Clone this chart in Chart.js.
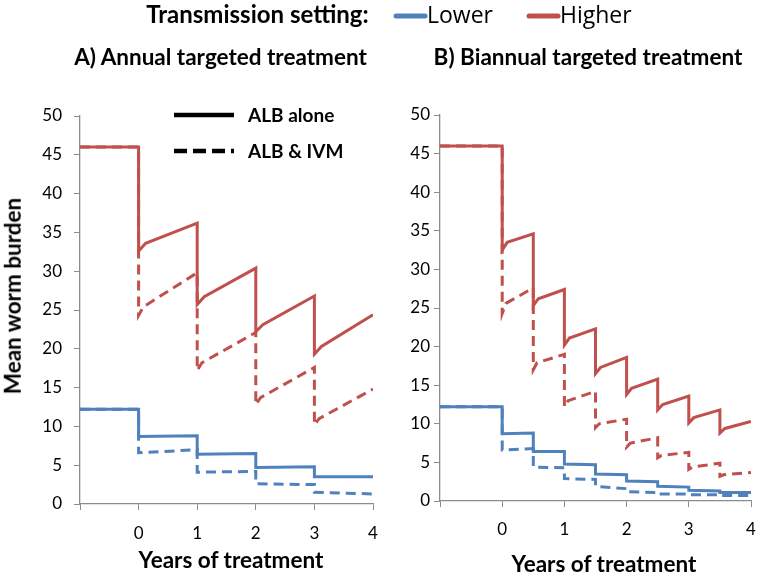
<!DOCTYPE html>
<html>
<head>
<meta charset="utf-8">
<script src="https://cdn.jsdelivr.net/npm/chart.js@4.4.1/dist/chart.umd.min.js"></script>
<style>
    body { margin: 0; background: #fff; font-family: Lato, sans-serif; }
    #page { position: relative; width: 758px; height: 574px; overflow: hidden; }
    canvas { position: absolute; }
    .txt { position: absolute; white-space: nowrap; color: #000; line-height: 1; }
    .bold { font-weight: bold; }
    .reg { font-family: "Open Sans", sans-serif; }
    svg { position: absolute; left: 0; top: 0; }
</style>
</head>
<body>
<div id="page">
    <canvas id="chartA" width="385" height="474" style="left:0; top:100px; width:385px; height:474px;"></canvas>
    <canvas id="chartB" width="373" height="474" style="left:385px; top:100px; width:373px; height:474px;"></canvas>

    <svg width="758" height="200">
        <line x1="396" y1="16" x2="425" y2="16" stroke="#4f81bd" stroke-width="5" stroke-linecap="round"/>
        <line x1="529" y1="16" x2="558" y2="16" stroke="#c0504d" stroke-width="5" stroke-linecap="round"/>
        <line x1="174" y1="115" x2="234" y2="115" stroke="#000" stroke-width="4.5"/>
        <line x1="174" y1="151" x2="234" y2="151" stroke="#000" stroke-width="4.5" stroke-dasharray="13 6"/>
    </svg>

    <div class="txt bold" style="left:0; width:515px; text-align:center; top:2px; font-size:24px;">Transmission setting:</div>
    <div class="txt reg" style="left:427px; top:3px; font-size:23px;">Lower</div>
    <div class="txt reg" style="left:560px; top:3px; font-size:23px;">Higher</div>
    <div class="txt bold" style="left:0; width:441px; text-align:center; top:46px; font-size:22.5px;">A) Annual targeted treatment</div>
    <div class="txt bold" style="left:400px; width:376px; text-align:center; top:46px; font-size:22.5px;">B) Biannual targeted treatment</div>
    <div class="txt bold" style="left:248px; top:105px; font-size:19px;">ALB alone</div>
    <div class="txt bold" style="left:248px; top:141px; font-size:19px;">ALB &amp; IVM</div>

    <div class="txt bold" style="left:13px; top:296px; font-size:22.5px; transform: translate(-50%, -50%) rotate(-90deg);">Mean worm burden</div>
    <div class="txt bold" style="left:0; width:462px; text-align:center; top:549px; font-size:22.5px;">Years of treatment</div>
    <div class="txt bold" style="left:400px; width:408px; text-align:center; top:553px; font-size:22.5px;">Years of treatment</div>
</div>

<script>
// x tick values shown under each panel
const yearLabels = [0, 1, 2, 3, 4];
const yTickStep = 5;

// Panel A - annual treatment, [year, mean worm burden]
const annualHigherAlb = [[-1, 46], [0, 46], [0, 32.6], [0.12, 33.6], [1, 36.2], [1, 25.7], [1.12, 26.7], [2, 30.4],
    [2, 22.2], [2.12, 23.1], [3, 26.8], [3, 19.3], [3.12, 20.3], [4, 24.4]];
const annualHigherIvm = [[-1, 46], [0, 46], [0, 24.3], [0.08, 25.4], [1, 29.8], [1, 17.2], [1.08, 18.2], [2, 22.1],
    [2, 12.8], [2.08, 13.7], [3, 17.6], [3, 10.2], [3.08, 11.0], [4, 14.8]];
const annualLowerAlb = [[-1, 12.2], [0, 12.2], [0, 8.7], [1, 8.8], [1, 6.4], [2, 6.5], [2, 4.7], [3, 4.8], [3, 3.5], [4, 3.5]];
const annualLowerIvm = [[-1, 12.2], [0, 12.2], [0, 6.6], [1, 7.0], [1, 4.1], [2, 4.2], [2, 2.6], [3, 2.5], [3, 1.5], [4, 1.3]];

// Panel B - biannual treatment
const biannualHigherAlb = [[-1, 46], [0, 46], [0, 32.5], [0.08, 33.5], [0.5, 34.6], [0.5, 25.3], [0.58, 26.2], [1, 27.4],
    [1, 20.2], [1.08, 21.1], [1.5, 22.3], [1.5, 16.5], [1.58, 17.3], [2, 18.6], [2, 13.8], [2.08, 14.6], [2.5, 15.8],
    [2.5, 11.8], [2.58, 12.5], [3, 13.6], [3, 10.1], [3.08, 10.8], [3.5, 11.8], [3.5, 8.8], [3.58, 9.4], [4, 10.3]];
const biannualHigherIvm = [[-1, 46], [0, 46], [0, 24.3], [0.06, 25.6], [0.5, 27.6], [0.5, 17.0], [0.56, 17.9], [1, 19.0],
    [1, 12.2], [1.06, 13.0], [1.5, 14.2], [1.5, 9.5], [1.56, 10.0], [2, 10.6], [2, 7.0], [2.06, 7.5], [2.5, 8.2],
    [2.5, 5.6], [2.56, 5.9], [3, 6.3], [3, 4.1], [3.06, 4.4], [3.5, 4.9], [3.5, 3.2], [3.56, 3.4], [4, 3.7]];
const biannualLowerAlb = [[-1, 12.2], [0, 12.2], [0, 8.7], [0.5, 8.8], [0.5, 6.4], [1, 6.4], [1, 4.8], [1.5, 4.7],
    [1.5, 3.5], [2, 3.4], [2, 2.6], [2.5, 2.5], [2.5, 1.9], [3, 1.8], [3, 1.4], [3.5, 1.3], [3.5, 1.1], [4, 1.1]];
const biannualLowerIvm = [[-1, 12.2], [0, 12.2], [0, 6.6], [0.5, 6.8], [0.5, 4.4], [1, 4.3], [1, 2.9], [1.5, 2.8],
    [1.5, 1.9], [2, 1.6], [2, 1.2], [2.5, 1.1], [2.5, 0.9], [3, 0.9], [3, 0.8], [3.5, 0.8], [3.5, 0.7], [4, 0.7]];

const BLUE = '#4f81bd';
const RED = '#c0504d';
const AXIS_GREY = '#8c8c8c';

function toPoints(arr) {
    return arr.map(p => ({ x: p[0], y: p[1] }));
}

function lineSet(label, arr, color, dashed) {
    return {
        label: label,
        data: toPoints(arr),
        borderColor: color,
        backgroundColor: color,
        borderWidth: 3,
        borderDash: dashed ? [10, 6] : [],
        pointRadius: 0,
        tension: 0,
        fill: false
    };
}

function makePanel(canvasId, sets, opts) {
    const ctx = document.getElementById(canvasId).getContext('2d');
    return new Chart(ctx, {
        type: 'line',
        data: { datasets: sets },
        options: {
            responsive: false,
            animation: false,
            layout: { padding: { top: opts.padTop, right: opts.padRight, left: 0, bottom: 0 } },
            plugins: { legend: { display: false }, tooltip: { enabled: false } },
            scales: {
                x: {
                    type: 'linear',
                    min: -1,
                    max: 4,
                    ticks: {
                        stepSize: 1,
                        color: '#000',
                        padding: opts.xTickPad,
                        font: { family: 'Lato', size: 17 },
                        callback: v => yearLabels.includes(v) ? String(v) : ''
                    },
                    grid: { drawOnChartArea: false, tickLength: 6, color: AXIS_GREY },
                    border: { color: AXIS_GREY, width: 1.3 },
                    afterFit: s => { s.height = opts.xHeight; s.paddingLeft = 0; s.paddingRight = 0; }
                },
                y: {
                    min: 0,
                    max: 50,
                    ticks: {
                        stepSize: yTickStep,
                        color: '#000',
                        padding: opts.yTickPad,
                        font: { family: 'Lato', size: 17 }
                    },
                    grid: { drawOnChartArea: false, tickLength: 6, color: AXIS_GREY },
                    border: { color: AXIS_GREY, width: 1.3 },
                    afterFit: s => { s.width = opts.yWidth; s.paddingTop = 0; s.paddingBottom = 0; }
                }
            }
        }
    });
}

makePanel('chartA', [
    lineSet('Higher, ALB alone', annualHigherAlb, RED, false),
    lineSet('Higher, ALB & IVM', annualHigherIvm, RED, true),
    lineSet('Lower, ALB alone', annualLowerAlb, BLUE, false),
    lineSet('Lower, ALB & IVM', annualLowerIvm, BLUE, true)
], { padTop: 16, padRight: 12, xHeight: 70, yWidth: 80, yTickPad: 12, xTickPad: 13 });

makePanel('chartB', [
    lineSet('Higher, ALB alone', biannualHigherAlb, RED, false),
    lineSet('Higher, ALB & IVM', biannualHigherIvm, RED, true),
    lineSet('Lower, ALB alone', biannualLowerAlb, BLUE, false),
    lineSet('Lower, ALB & IVM', biannualLowerIvm, BLUE, true)
], { padTop: 15, padRight: 7, xHeight: 73, yWidth: 55, yTickPad: 4, xTickPad: 12 });
</script>
</body>
</html>
